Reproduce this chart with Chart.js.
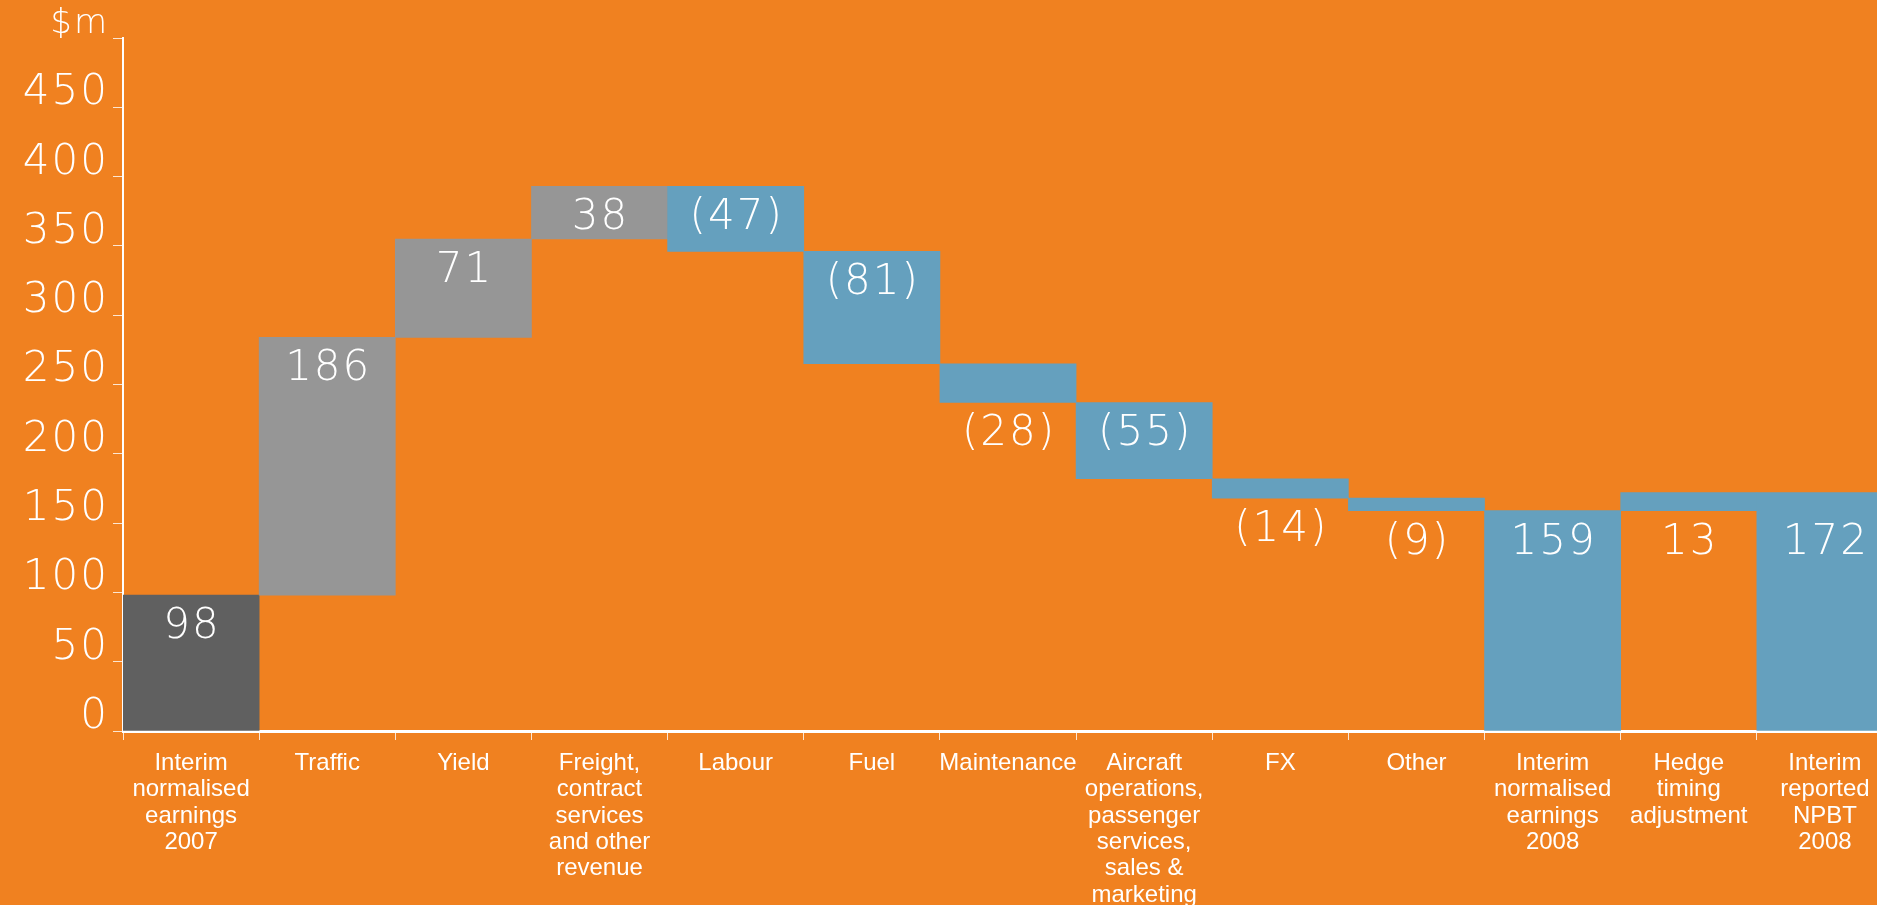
<!DOCTYPE html>
<html>
<head>
<meta charset="utf-8">
<title>Earnings bridge</title>
<script src="https://cdn.jsdelivr.net/npm/chart.js@4.4.1/dist/chart.umd.min.js"></script>
<style>
  html, body { margin: 0; padding: 0; background: #F08120; overflow: hidden; }
  #wrap { position: relative; width: 1893px; height: 905px; }
</style>
</head>
<body>
<div id="wrap"><canvas id="chart"></canvas></div>
<script>
// categories along the bottom
const categories = [
  ["Interim", "normalised", "earnings", "2007"],
  "Traffic",
  "Yield",
  ["Freight,", "contract", "services", "and other", "revenue"],
  "Labour",
  "Fuel",
  "Maintenance",
  ["Aircraft", "operations,", "passenger", "services,", "sales &", "marketing"],
  "FX",
  "Other",
  ["Interim", "normalised", "earnings", "2008"],
  ["Hedge", "timing", "adjustment"],
  ["Interim", "reported", "NPBT", "2008"]
];

// $m movements, totals are full bars from zero
const changes = [98, 186, 71, 38, -47, -81, -28, -55, -14, -9, 159, 13, 172];
const isTotal = [true, false, false, false, false, false, false, false, false, false, true, false, true];

const yTicks = [0, 50, 100, 150, 200, 250, 300, 350, 400, 450, 500];

// floating [from, to] for each bar
let running = 0;
const ranges = changes.map((v, i) => {
  if (isTotal[i]) { running = v; return [0, v]; }
  const r = [running, running + v];
  running += v;
  return r;
});

const DARK = '#606060', GREY = '#969696', BLUE = '#65A0BE';
const colours = changes.map((v, i) => i === 0 ? DARK : (i <= 3 ? GREY : BLUE));

const NUM_FONT = 'DejaVu Sans';
const TXT_FONT = 'Liberation Sans';

function labelAnchor(i) {
  const [a, b] = ranges[i];
  if (isTotal[i]) return i === ranges.length - 1 ? ranges[10][1] : Math.max(a, b);
  if (Math.abs(changes[i]) < 30) return Math.min(a, b);
  return Math.max(a, b);
}

// wide numerals: y tick labels (drawn before the bars) get letter spacing,
// x labels are drawn later (ticks.z = 1) with normal spacing
const spacing = {
  id: 'spacing',
  beforeDraw(chart) { chart.ctx.letterSpacing = '2px'; },
  beforeDatasetsDraw(chart) { chart.ctx.letterSpacing = '0px'; }
};

const barLabels = {
  id: 'barLabels',
  afterDatasetsDraw(chart) {
    const ctx = chart.ctx;
    const y = chart.scales.y;
    const meta = chart.getDatasetMeta(0);
    ctx.save();
    ctx.letterSpacing = '2px';
    ctx.fillStyle = '#ffffff';
    ctx.font = '200 42px "' + NUM_FONT + '"';
    ctx.textAlign = 'center';
    ctx.textBaseline = 'middle';
    meta.data.forEach((bar, i) => {
      const v = changes[i];
      const txt = v < 0 ? '(' + Math.abs(v) + ')' : String(v);
      ctx.fillText(txt, bar.x + 1, y.getPixelForValue(labelAnchor(i)) + 32);
    });
    ctx.restore();
  }
};

new Chart(document.getElementById('chart'), {
  type: 'bar',
  data: {
    labels: categories,
    datasets: [{
      data: ranges,
      backgroundColor: colours,
      borderWidth: 0,
      barPercentage: 1,
      categoryPercentage: 1
    }]
  },
  options: {
    responsive: true,
    maintainAspectRatio: false,
    animation: false,
    layout: { padding: { top: 38, left: 0, right: 0, bottom: 0 } },
    plugins: {
      legend: { display: false },
      tooltip: { enabled: false }
    },
    scales: {
      x: {
        grid: {
          drawOnChartArea: false,
          tickLength: 9,
          color: 'rgba(255,255,255,0.8)',
          lineWidth: 1,
          offset: true
        },
        border: { color: '#ffffff', width: 3 },
        ticks: {
          z: 1,
          color: '#ffffff',
          font: { family: TXT_FONT, size: 24, lineHeight: 1.1 },
          padding: 10,
          autoSkip: false,
          maxRotation: 0,
          minRotation: 0
        },
        afterFit(scale) { scale.height = 174; }
      },
      y: {
        min: 0,
        max: 500,
        afterBuildTicks(scale) { scale.ticks = yTicks.map(v => ({ value: v })); },
        grid: {
          drawOnChartArea: false,
          tickLength: 10,
          color: 'rgba(255,255,255,0.8)',
          lineWidth: 1
        },
        border: { color: '#ffffff', width: 2 },
        ticks: {
          color: '#ffffff',
          padding: 4,
          labelOffset: -14,
          font: (c) => c.tick && c.tick.value === 500
            ? { family: NUM_FONT, size: 34, weight: 200 }
            : { family: NUM_FONT, size: 42, weight: 200 },
          callback: (v) => v === 500 ? '$m' : v
        },
        afterFit(scale) { scale.width = 123; }
      }
    }
  },
  plugins: [spacing, barLabels]
});
</script>
</body>
</html>
